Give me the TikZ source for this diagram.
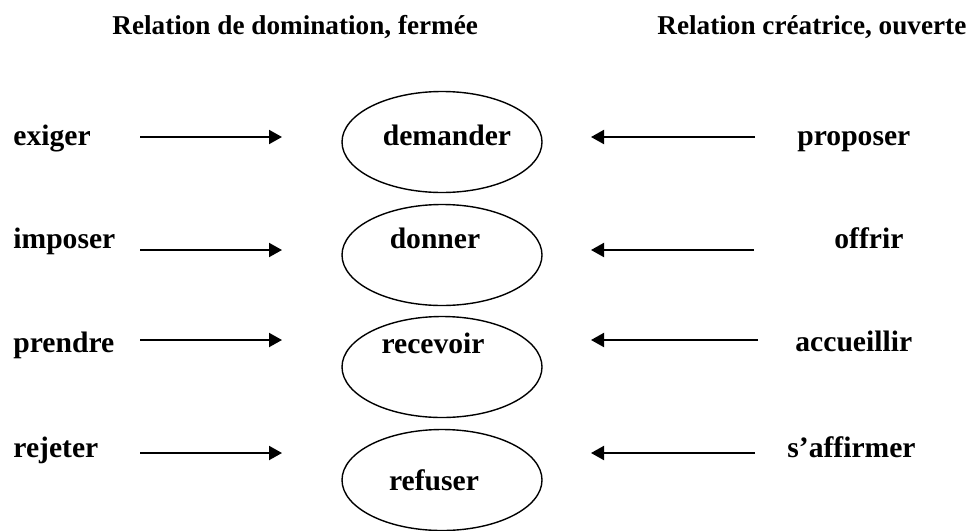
\documentclass[tikz,border=0pt]{standalone}
\usepackage{fontspec}
\setmainfont{Liberation Serif}
\usetikzlibrary{shapes.geometric,arrows.meta}

\begin{document}
\begin{tikzpicture}[x=0.5pt,y=-0.5pt,
  every node/.style={font=\bfseries\fontsize{14.8}{17}\selectfont,inner sep=0pt},
  titre/.style={anchor=base west,font=\bfseries\fontsize{13.6}{16}\selectfont},
  mot/.style={anchor=base west},
  bulle/.style={ellipse,draw,line width=0.7pt,minimum width=100pt,minimum height=50.5pt},
  fleche/.style={line width=1pt,-{Triangle[length=6.5pt,width=7pt]}}]
\useasboundingbox (0,0) rectangle (972,530);

\node[titre] (t1) at (112,34) {Relation de domination, fermée};
\node[titre] (t2) at (657,34) {Relation créatrice, ouverte};

% ellipses
\node[bulle] (e1) at (442,142) {};
\node[bulle] (e2) at (442,255) {};
\node[bulle] (e3) at (442,367) {};
\node[bulle] (e4) at (442,480) {};
\node[anchor=base] (c1) at (447,145) {demander};
\node[anchor=base] (c2) at (435,248) {donner};
\node[anchor=base] (c3) at (433,353) {recevoir};
\node[anchor=base] (c4) at (434,490) {refuser};

% gauche
\node[mot] (g1) at (13,145) {exiger};
\node[mot] (g2) at (13,248) {imposer};
\node[mot] (g3) at (13,352) {prendre};
\node[mot] (g4) at (13,457) {rejeter};

% droite
\node[mot] (d1) at (797,145) {proposer};
\node[mot] (d2) at (834,248) {offrir};
\node[mot] (d3) at (795,351) {accueillir};
\node[mot] (d4) at (787,457) {s’affirmer};

\coordinate (a1) at (140,137);
\coordinate (b1) at (282,137);
\coordinate (a2) at (140,250);
\coordinate (b2) at (282,250);
\coordinate (a3) at (140,340);
\coordinate (b3) at (282,340);
\coordinate (a4) at (140,453);
\coordinate (b4) at (282,453);
\coordinate (p1) at (755,137);
\coordinate (q1) at (591,137);
\coordinate (p2) at (754,250);
\coordinate (q2) at (591,250);
\coordinate (p3) at (758,340);
\coordinate (q3) at (591,340);
\coordinate (p4) at (755,453);
\coordinate (q4) at (591,453);

  \foreach \from/\to in {a1/b1,a2/b2,a3/b3,a4/b4,p1/q1,p2/q2,p3/q3,p4/q4}
    \draw[fleche] (\from) -- (\to);

\end{tikzpicture}
\end{document}
